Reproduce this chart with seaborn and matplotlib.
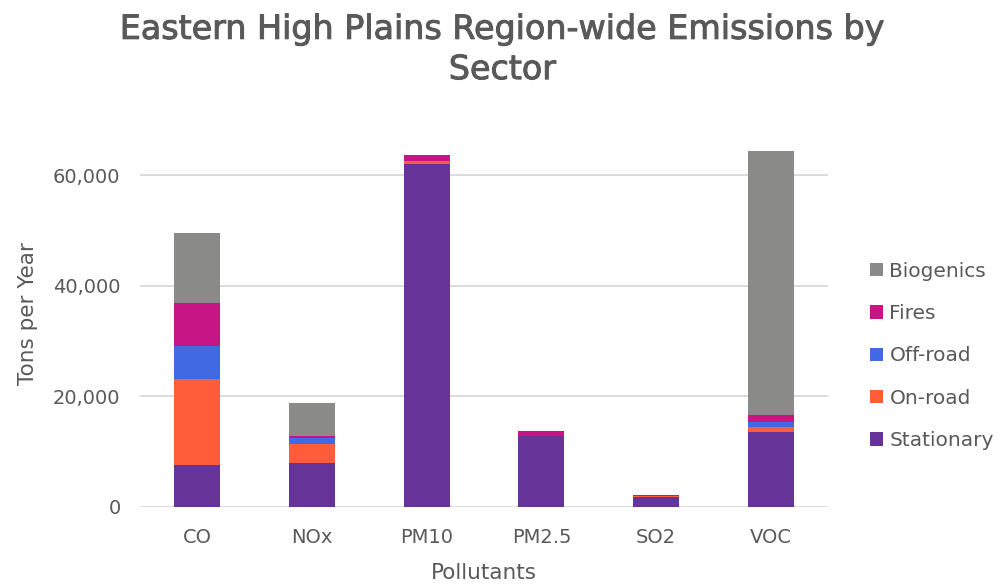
import numpy as np
import matplotlib
matplotlib.use("Agg")
import matplotlib.pyplot as plt
import matplotlib.patheffects as pe
from matplotlib.patches import Patch
from matplotlib.ticker import FuncFormatter
import seaborn as sns

# Emissions by sector, tons per year
pollutants = ["CO", "NOx", "PM10", "PM2.5", "SO2", "VOC"]
stationary = [7550, 7850, 62100, 12800, 1800, 13450]
on_road = [15550, 3500, 400, 0, 100, 1050]
off_road = [5900, 1150, 100, 0, 50, 800]
fires = [7800, 350, 1050, 950, 220, 1300]
biogenics = [12700, 5950, 0, 0, 0, 47800]

sectors = ["Stationary", "On-road", "Off-road", "Fires", "Biogenics"]
series = [stationary, on_road, off_road, fires, biogenics]
colors = ["#663399", "#FF5C39", "#4169E1", "#C71585", "#8A8B88"]

sns.set_theme(style="white")
plt.rcParams["font.family"] = ["DejaVu Sans"]
text_color = "#595959"

fig = plt.figure(figsize=(10.05, 5.84), dpi=100)
ax = fig.add_axes([0.1393, 0.1324, 0.6847, 0.6621])

# Stack by overlaying cumulative totals, tallest first
cum = np.cumsum(np.array(series, dtype=float), axis=0)
for i in range(len(sectors) - 1, -1, -1):
    sns.barplot(x=pollutants, y=cum[i], color=colors[i], width=0.4,
                saturation=1, ax=ax, zorder=3, edgecolor="none")

ax.set_ylim(0, 70000)
ax.set_xlim(-0.5, 5.5)
ax.set_yticks([0, 20000, 40000, 60000])
ax.yaxis.set_major_formatter(FuncFormatter(lambda v, p: f"{int(v):,}"))
ax.grid(axis="y", color="#D9D9D9", linewidth=1.3, zorder=0)
ax.grid(axis="x", visible=False)
for s in ax.spines.values():
    s.set_visible(False)
ax.tick_params(axis="y", length=0, labelsize=14, colors=text_color, pad=14)
ax.tick_params(axis="x", length=0, labelsize=14, colors=text_color, pad=15)

ax.set_xlabel("Pollutants", fontsize=15.5, color=text_color, labelpad=12)
ax.set_ylabel("Tons per Year", fontsize=15.5, color=text_color, labelpad=11)

title = fig.suptitle("Eastern High Plains Region-wide Emissions by\nSector",
                     x=0.5, y=0.978, fontsize=24, color=text_color,
                     linespacing=1.28)
title.set_path_effects([pe.withStroke(linewidth=0.7, foreground=text_color)])

handles = [Patch(facecolor=colors[i], edgecolor="none", label=sectors[i])
           for i in range(len(sectors) - 1, -1, -1)]
leg = ax.legend(handles=handles, loc="center left", bbox_to_anchor=(1.035, 0.39),
                frameon=False, fontsize=14.5, handlelength=0.65, handleheight=0.65,
                handletextpad=0.3, labelspacing=1.16, labelcolor=text_color)

fig.savefig("out.png", dpi=100)
